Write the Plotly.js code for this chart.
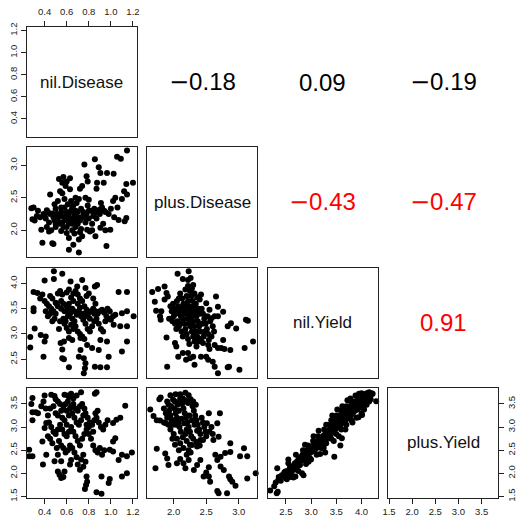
<!DOCTYPE html>
<html><head><meta charset="utf-8">
<script src="https://cdn.plot.ly/plotly-3.0.1.min.js"></script>
<style>html,body{margin:0;padding:0;background:#fff}#chart{width:519px;height:519px}</style>
</head><body><div id="chart"></div>
<script>
const varNames = ["nil.Disease","plus.Disease","nil.Yield","plus.Yield"];
const varRanges = [[0.236,1.232],[1.59,3.28],[2.137,4.316],[1.478,3.855]];
const varTicks = [[0.4,0.6,0.8,1.0,1.2],[2.0,2.5,3.0],[2.5,3.0,3.5,4.0],[1.5,2.0,2.5,3.0,3.5]];

const corrRows = [1,1,1,2,2,3];
const corrCols = [2,3,4,3,4,4];
const corrValues = [-0.18,0.09,-0.19,-0.43,-0.47,0.91];
const corrColors = ["#000000","#000000","#000000","#ff0000","#ff0000","#ff0000"];

// row 2, col 1 : nil.Disease (x) vs plus.Disease (y)
const pts21 = [[0.28,2.34],[0.30,2.35],[0.29,2.17],[0.31,2.15],[0.33,2.22],[0.34,2.30],
[0.37,2.01],[0.38,1.81],[0.40,2.22],[0.41,2.18],[0.42,2.05],[0.43,2.28],[0.44,2.12],[0.45,2.55],[0.44,1.98],[0.39,2.25],[0.42,2.31],[0.36,2.20],
[0.47,1.80],[0.48,1.79],[0.48,2.20],[0.49,2.15],[0.50,2.33],[0.51,2.25],[0.50,2.05],[0.52,2.45],[0.53,2.79],[0.54,2.60],[0.53,2.10],[0.47,2.26],[0.46,2.00],[0.52,2.18],[0.55,2.28],[0.55,1.99],[0.49,2.40],
[0.56,2.73],[0.56,2.57],[0.57,2.82],[0.59,2.68],[0.60,2.75],[0.61,2.15],[0.62,1.70],[0.62,1.88],[0.60,1.96],[0.63,2.63],[0.63,2.80],[0.58,2.35],[0.59,2.22],[0.61,2.40],[0.64,2.30],[0.57,2.05],[0.62,2.10],[0.65,2.00],[0.64,2.45],[0.58,2.48],[0.60,2.28],[0.63,2.18],[0.56,2.12],[0.65,2.35],[0.66,1.78],
[0.67,2.25],[0.68,2.50],[0.69,2.42],[0.70,2.10],[0.71,1.66],[0.71,1.86],[0.72,2.64],[0.73,2.33],[0.74,2.68],[0.74,1.91],[0.70,2.20],[0.68,2.05],[0.72,1.97],[0.66,2.38],[0.69,2.15],[0.73,2.02],[0.75,2.28],[0.67,1.95],[0.71,2.48],[0.74,2.20],
[0.76,3.01],[0.77,2.50],[0.78,2.83],[0.79,2.75],[0.80,2.47],[0.785,2.01],[0.78,2.25],[0.80,2.18],[0.82,2.30],[0.83,2.10],[0.84,2.22],[0.77,2.12],[0.81,1.98],[0.85,2.33],[0.79,2.38],[0.83,2.00],
[0.855,3.09],[0.89,2.97],[0.905,2.88],[0.875,2.73],[0.87,2.64],[0.86,1.91],[0.905,2.04],[0.935,2.73],[0.88,2.30],[0.90,2.25],[0.92,2.35],[0.93,2.10],[0.87,2.18],[0.95,2.00],[0.94,2.30],[0.91,2.42],[0.96,1.76],
[0.965,2.88],[1.025,2.87],[0.995,2.01],[1.00,2.33],[1.02,2.45],[1.04,2.50],[1.056,3.13],[1.09,3.10],[1.07,2.16],[1.10,2.48],[1.125,2.14],[1.14,2.19],[1.146,2.55],[1.14,2.71],[1.146,3.226],[1.20,2.73],[0.98,2.25],[1.03,2.20],[1.12,2.60],[1.06,2.35],
[0.45,2.25],[0.50,2.18],[0.55,2.22],[0.58,2.15],[0.60,2.20],[0.62,2.25],[0.65,2.18],[0.68,2.30],[0.70,2.28],[0.72,2.15],[0.75,2.22],[0.78,2.18],[0.80,2.30],[0.85,2.25],[0.90,2.32],[0.95,2.28],[0.60,2.05],[0.65,2.10],[0.55,2.35],[0.50,2.10]];

// row 3, col 1 : nil.Disease (x) vs nil.Yield (y)
const pts31 = [[0.484,4.24],[0.56,4.19],[0.484,4.09],[0.40,4.06],[0.635,4.04],[0.74,4.07],[0.875,3.97],[0.855,3.94],[0.77,3.91],[0.695,3.94],
[0.30,3.83],[0.335,3.81],[0.30,3.51],[0.30,3.45],[0.31,3.11],[0.27,2.94],[0.27,2.73],[0.365,2.98],[0.40,2.85],[0.41,2.95],[0.39,2.55],
[1.146,3.83],[1.07,3.83],[1.206,3.35],[1.146,3.45],[1.10,3.41],[1.04,3.38],[1.146,3.15],[1.085,3.15],[1.025,3.18],[1.146,2.85],[1.10,2.65],[0.965,2.85],[0.98,2.55],[0.965,2.34],[0.905,2.34],[0.855,2.35],[0.755,2.22],[0.765,2.32],[0.77,2.42],[0.755,2.52],[0.62,2.34],[0.71,2.55],[0.56,2.52],[0.575,2.50],
[0.545,2.82],[0.56,2.69],[0.575,2.85],[0.62,2.92],[0.65,2.88],[0.725,2.92],[0.785,2.78],[0.725,2.68],[0.83,2.72],[0.89,2.68],[0.905,2.88],
[0.45,3.75],[0.47,3.70],[0.50,3.62],[0.52,3.55],[0.55,3.50],[0.58,3.45],[0.60,3.55],[0.62,3.60],[0.64,3.72],[0.66,3.80],[0.68,3.85],[0.70,3.78],[0.72,3.70],[0.74,3.65],[0.76,3.55],[0.78,3.48],[0.80,3.42],[0.82,3.45],[0.84,3.50],[0.86,3.45],[0.88,3.40],[0.90,3.45],[0.92,3.48],[0.94,3.42],[0.96,3.35],[0.98,3.30],
[0.57,3.30],[0.59,3.25],[0.61,3.35],[0.63,3.40],[0.65,3.30],[0.67,3.25],[0.69,3.38],[0.71,3.45],[0.73,3.35],[0.75,3.28],[0.77,3.20],[0.79,3.10],[0.81,3.05],[0.83,3.15],[0.85,3.25],[0.87,3.30],[0.89,3.20],[0.91,3.10],[0.93,3.05],
[0.50,3.40],[0.48,3.45],[0.46,3.50],[0.44,3.55],[0.42,3.60],[0.40,3.65],[0.38,3.78],[0.36,3.70],[0.52,3.80],[0.54,3.85],[0.56,3.78],[0.60,3.82],[0.62,3.88],[0.66,3.65],[0.70,3.60],[0.72,3.52],
[0.68,3.15],[0.70,3.05],[0.72,3.00],[0.74,2.95],[0.76,2.90],[0.66,3.10],[0.64,3.18],[0.62,3.05],[0.60,3.12],[0.58,3.20],[0.54,3.25],[0.53,3.10],[0.51,3.60],[0.49,3.30],[0.47,3.25],[0.45,3.40],[0.43,3.35],[0.41,3.45],
[0.55,3.65],[0.57,3.60],[0.65,3.50],[0.67,3.45],[0.79,3.35],[0.81,3.30],[0.75,3.40],[0.77,3.38],[0.63,3.50],[0.61,3.45],[0.85,3.40],[0.95,3.25],[1.00,3.28],[1.02,3.35],[0.99,3.45],[0.97,3.50],[0.86,3.60],[0.84,3.70],[0.80,3.80],[0.78,3.75]];

// row 4, col 1 : nil.Disease (x) vs plus.Yield (y)
const pts41 = [[0.29,3.63],[0.40,3.68],[0.46,3.70],[0.49,3.67],[0.64,3.72],[0.73,3.75],[0.855,3.72],[0.87,3.75],[0.69,3.68],[0.58,3.70],[0.61,3.68],
[0.28,3.50],[0.29,3.32],[0.29,3.15],[0.32,3.32],[0.34,3.30],[0.26,2.51],[0.26,2.37],[0.29,2.37],[0.38,2.69],[0.385,2.19],[0.40,2.98],[0.415,3.09],[0.43,2.80],
[1.13,3.46],[1.085,3.20],[1.05,3.16],[1.02,3.09],[1.04,2.76],[1.02,2.69],[0.99,2.51],[1.02,2.47],[1.19,2.45],[1.145,2.37],[1.10,2.40],[1.07,2.29],[1.145,2.00],[1.10,1.93],[0.99,1.88],[0.98,1.79],[0.915,1.93],[0.915,1.56],[0.87,1.59],[0.765,1.66],[0.775,1.75],[0.78,1.93],[0.785,1.82],
[0.52,2.04],[0.535,1.97],[0.55,1.90],[0.57,1.92],[0.58,2.04],[0.72,2.08],[0.75,2.14],[0.70,2.19],[0.63,2.19],[0.55,2.26],[0.64,2.29],[0.52,2.40],[0.49,2.26],[0.415,2.40],
[0.45,3.40],[0.48,3.45],[0.50,3.30],[0.52,3.25],[0.55,3.35],[0.57,3.45],[0.59,3.50],[0.61,3.55],[0.63,3.40],[0.65,3.30],[0.67,3.20],[0.69,3.10],[0.71,3.05],[0.73,3.15],[0.75,3.25],[0.77,3.30],[0.79,3.20],[0.81,3.10],[0.83,3.05],[0.85,3.15],[0.87,3.20],[0.89,3.10],[0.91,3.00],[0.93,2.95],[0.95,3.05],[0.97,3.15],
[0.44,3.10],[0.46,3.00],[0.48,2.90],[0.50,2.85],[0.52,2.95],[0.54,3.05],[0.56,2.95],[0.58,2.85],[0.60,2.80],[0.62,2.90],[0.64,3.00],[0.66,2.90],[0.68,2.80],[0.70,2.70],[0.72,2.60],[0.74,2.75],[0.76,2.85],[0.78,2.95],[0.80,2.85],[0.82,2.75],[0.84,2.60],[0.86,2.50],[0.88,2.45],[0.90,2.55],[0.92,2.40],[0.94,2.50],
[0.55,2.60],[0.57,2.55],[0.59,2.45],[0.61,2.50],[0.63,2.60],[0.65,2.55],[0.67,2.45],[0.69,2.35],[0.53,2.70],[0.51,2.55],[0.47,2.65],[0.45,2.75],[0.43,3.25],[0.41,3.40],[0.39,3.55],[0.37,3.45],
[0.60,3.35],[0.62,3.25],[0.64,3.45],[0.66,3.50],[0.68,3.40],[0.70,3.35],[0.72,3.45],[0.74,3.50],[0.76,3.40],[0.78,3.05],[0.80,3.00],[0.56,3.20],[0.58,3.15],[0.60,3.05],[0.54,3.50],[0.52,3.55],[0.50,3.60],[0.66,3.62],[0.62,3.65],[0.86,3.30],[0.88,3.35],[0.84,2.90],[0.75,2.40],[0.77,2.25],[0.73,2.30]];

// row 3, col 2 : plus.Disease (x) vs nil.Yield (y)
const pts32 = [[1.67,3.83],[1.71,3.64],[1.73,3.46],[1.81,3.45],[1.79,3.35],[1.80,3.28],[1.76,3.89],[1.86,3.94],[1.89,3.81],[1.91,3.74],[1.86,3.68],
[2.06,4.19],[2.23,4.24],[2.14,4.09],[2.22,4.07],[2.30,3.97],[2.26,4.11],
[1.89,2.93],[1.90,2.35],[2.02,2.82],[2.04,2.75],[2.07,2.55],[2.14,2.62],[2.19,2.49],[2.22,2.62],[2.25,2.52],[2.30,2.55],[2.32,2.39],[2.42,2.55],[2.50,2.55],[2.53,2.49],[2.60,2.45],[2.63,2.35],[2.68,2.22],[2.83,2.34],[2.85,2.35],[3.01,2.29],[3.09,2.72],[3.22,2.85],[3.11,3.28],[3.14,3.26],[2.96,3.11],[2.88,3.21],[2.83,3.15],[2.76,2.88],[2.68,2.72],[2.73,2.72],[2.78,2.70],[2.87,2.68],[2.55,2.70],[2.53,2.78],[2.63,2.78],[2.45,2.82],
[2.68,3.54],[2.76,3.44],[2.68,3.35],[2.63,3.35],[2.58,3.31],[2.55,3.48],[2.50,3.61],[2.65,3.74],[2.42,3.78],[2.40,3.68],
[1.95,3.55],[1.97,3.45],[1.99,3.60],[2.01,3.50],[2.03,3.40],[2.05,3.65],[2.07,3.55],[2.09,3.45],[2.11,3.35],[2.13,3.70],[2.15,3.60],[2.17,3.50],[2.19,3.40],[2.21,3.30],[2.23,3.20],[2.25,3.85],[2.27,3.75],[2.29,3.65],[2.31,3.55],[2.33,3.45],[2.35,3.35],[2.37,3.25],[2.39,3.15],[2.41,3.05],[2.43,3.50],[2.45,3.40],[2.47,3.30],[2.49,3.20],[2.51,3.10],[2.53,3.00],
[2.10,3.80],[2.18,3.88],[2.20,3.75],[2.22,3.65],[2.24,3.55],[2.26,3.45],[2.28,3.35],[2.30,3.25],[2.32,3.15],[2.34,3.05],[2.36,2.95],[2.02,3.20],[2.04,3.10],[2.06,3.25],[2.08,3.15],[2.12,3.05],[2.14,2.95],[2.16,3.20],[2.18,3.10],[2.20,3.00],[2.22,2.90],[2.24,2.80],[2.26,3.15],[2.28,3.05],[2.30,2.95],[2.32,2.85],
[1.93,3.30],[1.98,3.25],[2.00,3.35],[2.06,3.42],[2.12,3.52],[2.16,3.42],[2.20,3.50],[2.24,3.38],[2.28,3.48],[2.34,3.60],[2.38,3.50],[2.40,3.40],[2.44,3.20],[2.48,3.05],[2.52,3.35],[2.56,3.25],[2.60,3.15],[2.62,3.05],[2.58,2.95],[2.54,2.88],[2.46,2.95],[2.42,2.90],[2.38,2.85],[2.35,2.75],[2.22,3.95],[2.28,3.90],[2.32,3.80],[2.36,3.72],[2.14,3.30],[2.10,3.20],[2.26,3.28],[2.30,3.38],[2.18,3.58],[2.08,3.70]];

// row 4, col 2 : plus.Disease (x) vs plus.Yield (y)
const pts42 = [[1.64,3.38],[1.69,3.24],[1.78,3.60],[1.80,3.64],[1.74,3.15],[1.79,3.14],[1.85,3.10],[1.88,3.08],[1.72,2.11],[1.74,2.53],[1.87,2.43],[1.90,2.32],[1.92,2.18],[2.05,2.22],[2.10,2.31],[2.15,2.22],[2.18,2.11],[2.23,2.29],[2.31,2.07],[2.36,2.18],[2.41,2.29],[2.46,1.93],[2.50,2.02],[2.54,1.93],[2.56,1.82],[2.54,2.13],[2.67,2.29],[2.64,2.40],[2.72,2.36],[2.79,2.44],[2.87,2.46],[2.72,2.15],[2.77,2.07],[2.85,1.93],[2.87,1.87],[2.90,1.82],[2.82,1.57],[2.69,1.57],[2.67,1.62],[2.95,1.73],[3.13,1.89],[3.26,2.00],[3.08,2.54],[3.13,2.37],[3.02,2.37],[2.87,2.65],[2.69,2.79],[2.67,3.08],[2.71,3.30],[2.54,3.30],[2.51,3.08],[2.61,2.72],[2.41,2.72],[2.36,2.58],[2.28,2.61],[2.23,2.50],[2.20,2.40],
[1.95,3.69],[2.03,3.71],[2.10,3.71],[2.18,3.74],[2.23,3.69],[2.10,3.62],[1.99,3.59],[1.92,3.48],[1.90,3.55],
[1.85,3.40],[1.88,3.30],[1.90,3.20],[1.93,3.35],[1.95,3.25],[1.97,3.15],[1.99,3.05],[2.01,3.40],[2.03,3.30],[2.05,3.20],[2.07,3.10],[2.09,3.00],[2.11,2.90],[2.13,3.50],[2.15,3.40],[2.17,3.30],[2.19,3.20],[2.21,3.10],[2.23,3.00],[2.25,2.90],[2.27,2.80],[2.29,3.45],[2.31,3.35],[2.33,3.25],[2.35,3.15],[2.37,3.05],[2.39,2.95],[2.41,2.85],[2.43,3.20],[2.45,3.10],[2.47,3.00],[2.49,2.90],
[2.10,3.55],[2.14,3.62],[2.18,3.58],[2.22,3.52],[2.26,3.60],[2.30,3.55],[2.34,3.48],[2.06,3.48],[2.02,3.55],[1.96,3.45],[1.92,3.05],[1.95,2.95],[2.00,2.85],[2.05,2.75],[2.10,2.65],[2.15,2.55],[2.20,2.70],[2.25,2.62],[2.30,2.75],[2.35,2.68],[2.40,2.60],[2.45,2.72],[2.50,2.80],[2.55,2.90],[2.58,3.00],[2.60,2.85],
[2.12,3.18],[2.16,3.08],[2.20,2.95],[2.24,3.25],[2.28,3.15],[2.32,3.05],[2.36,2.92],[2.08,3.35],[2.04,3.05],[2.00,3.15],[1.98,2.75],[2.02,2.62],[2.08,2.50],[2.26,2.45],[2.18,2.85],[2.14,2.78]];

// row 4, col 3 : nil.Yield (x) vs plus.Yield (y)
const pts43 = [[2.19,1.63],[2.32,1.57],[2.34,1.60],[2.27,1.72],[2.35,1.85],[2.33,2.11],[2.42,1.96],[2.49,2.04],[2.52,1.87],[2.55,2.22],[2.65,2.16],[2.65,1.91],[2.69,1.93],[2.82,2.00],[2.85,1.96],[2.78,2.18],[2.72,2.25],[2.98,2.32],[3.11,2.40],[3.18,2.42],[3.28,2.45],[3.46,2.36],[3.61,2.76],[3.94,3.21],[4.01,3.26],[4.04,3.45],[4.20,3.73],[4.29,3.56],[4.10,3.73],[4.00,3.73],
[2.30,1.80],[2.36,1.92],[2.40,1.84],[2.44,1.95],[2.47,2.02],[2.50,1.90],[2.53,2.05],[2.56,1.98],[2.58,2.12],[2.61,2.02],[2.63,2.15],[2.66,2.08],[2.68,2.22],[2.71,2.12],[2.73,2.25],[2.75,2.30],[2.77,2.18],[2.79,2.35],[2.81,2.28],[2.83,2.40],[2.85,2.32],[2.87,2.45],[2.89,2.30],[2.91,2.42],[2.93,2.50],[2.95,2.38],[2.97,2.55],[2.99,2.45],
[3.01,2.58],[3.03,2.50],[3.05,2.62],[3.07,2.48],[3.09,2.65],[3.11,2.55],[3.13,2.70],[3.15,2.60],[3.17,2.72],[3.19,2.58],[3.21,2.78],[3.23,2.68],[3.25,2.82],[3.27,2.70],[3.29,2.88],[3.31,2.75],[3.33,2.90],[3.35,2.80],[3.37,2.95],[3.39,2.85],
[3.41,3.00],[3.43,2.88],[3.45,3.05],[3.47,2.95],[3.49,3.10],[3.51,2.98],[3.53,3.12],[3.55,3.02],[3.57,3.18],[3.59,3.05],[3.61,3.22],[3.63,3.10],[3.65,3.25],[3.67,3.12],[3.69,3.30],[3.71,3.18],[3.73,3.32],[3.75,3.22],[3.77,3.38],[3.79,3.25],
[3.81,3.42],[3.83,3.30],[3.85,3.45],[3.87,3.35],[3.89,3.50],[3.91,3.38],[3.93,3.55],[3.95,3.42],[3.97,3.60],[3.99,3.48],[4.02,3.65],[4.05,3.55],[4.08,3.70],[4.12,3.62],[4.15,3.75],[4.18,3.68],[4.22,3.72],
[3.14,2.80],[3.26,2.95],[3.36,3.05],[3.46,3.15],[3.56,3.25],[3.66,3.35],[3.76,3.45],[3.86,3.55],[3.96,3.65],[3.04,2.70],[2.94,2.60],[2.84,2.50],[3.20,2.55],[3.30,2.65],[3.40,2.75],[3.50,2.85],[3.60,2.95],[3.70,3.05],[3.80,3.15],
[3.35,2.88],[3.45,2.92],[3.55,3.08],[3.65,3.18],[3.75,3.28],[3.85,3.38],[3.10,2.62],[3.00,2.52],[2.90,2.40],[3.22,2.72],[3.32,2.82],[3.42,2.95],[3.52,3.05],[3.62,3.15],
[2.90,2.20],[3.00,2.30],[3.05,2.80],[3.15,2.92],[3.25,2.55],[3.30,3.05],[3.40,3.15],[3.45,2.70],[3.55,2.80],[3.50,3.25],[3.60,3.35],[3.68,2.95],[3.70,3.45],[3.80,3.55],[3.82,3.10],[3.90,3.20],[3.92,3.65],[4.00,3.30],[4.05,3.38],[4.10,3.48],[4.15,3.55],[3.58,2.60],[3.25,2.62],[2.95,2.25],[2.75,2.05],[2.60,1.92],[2.88,2.62],[2.70,2.40],[2.55,2.30],[3.78,3.62],[3.72,3.58],[3.62,3.45],[3.52,3.38],[3.42,3.25],[3.88,3.68],[4.08,3.58],[4.18,3.60],[3.95,3.72]];

const scatterPanels = {"2,1":pts21,"3,1":pts31,"4,1":pts41,"3,2":pts32,"4,2":pts42,"4,3":pts43};

// ---- layout geometry (pixels in a 519 x 519 page) ----
const W = 519;
const colPx = [[26.5,136.5],[147,257],[267.5,377.5],[388,498]];
const rowPx = [[27,137],[147,257],[267.5,377.5],[387.5,497.5]];
const xDom = c => [colPx[c-1][0]/W, colPx[c-1][1]/W];
const yDom = r => [1-rowPx[r-1][1]/W, 1-rowPx[r-1][0]/W];

const FONT = "Liberation Sans, Arial, Helvetica, sans-serif";
const LINE = "#222222";
const tickFont = {family: FONT, size: 9.5, color: "#222222"};

const traces = [];
const layout = {
  width: W, height: W, margin: {l:0,r:0,t:0,b:0},
  paper_bgcolor: "#ffffff", plot_bgcolor: "#ffffff",
  showlegend: false, annotations: []
};

function fmt(v){
  const s = Math.abs(v).toFixed(2);
  return (v<0 ? '<span style="font-family:DejaVu Sans">\u2212</span>' : "") + s;
}

let n = 0;
for (let r = 1; r <= 4; r++) {
  for (let c = 1; c <= r; c++) {
    n++;
    const xa = "xaxis" + (n===1?"":n), ya = "yaxis" + (n===1?"":n);
    const xid = "x" + (n===1?"":n), yid = "y" + (n===1?"":n);
    const xTickSide = (r===4) ? "bottom" : (r===1 && c===1 ? "top" : null);
    const yTickSide = (c===1) ? "left" : (r===4 && c===4 ? "right" : null);
    layout[xa] = {
      domain: xDom(c), range: varRanges[c-1], anchor: yid,
      showline: true, mirror: true, linecolor: LINE, linewidth: 1,
      showgrid: false, zeroline: false, fixedrange: true,
      side: xTickSide || "bottom",
      tickvals: varTicks[c-1], ticktext: varTicks[c-1].map(v=>v.toFixed(1)),
      ticks: xTickSide ? "outside" : "", ticklen: 5, tickcolor: LINE, tickwidth: 1,
      showticklabels: !!xTickSide, tickfont: tickFont,
      ticklabelstandoff: (r===1 && c===1) ? 2 : 0
    };
    layout[ya] = {
      domain: yDom(r), range: varRanges[r-1], anchor: xid,
      showline: true, mirror: true, linecolor: LINE, linewidth: 1,
      showgrid: false, zeroline: false, fixedrange: true,
      side: yTickSide || "left",
      tickvals: varTicks[r-1], ticktext: varTicks[r-1].map(v=>v.toFixed(1)),
      ticks: yTickSide ? "outside" : "", ticklen: 5, tickcolor: LINE, tickwidth: 1,
      showticklabels: !!yTickSide, tickfont: tickFont, tickangle: -90, ticklabelstandoff: 0
    };
    if (r === c) {
      layout.annotations.push({
        xref: xid + " domain", yref: yid + " domain", x: 0.5, y: 0.5,
        text: varNames[r-1], showarrow: false,
        font: {family: FONT, size: 17, color: "#111111"}, xanchor: "center", yanchor: "middle"
      });
      traces.push({type:"scatter", x:[], y:[], xaxis:xid, yaxis:yid, hoverinfo:"skip"});
    } else {
      const pts = scatterPanels[r + "," + c];
      traces.push({
        type: "scatter", mode: "markers", xaxis: xid, yaxis: yid,
        x: pts.map(p=>p[0]), y: pts.map(p=>p[1]),
        marker: {color: "#000000", size: 6, line: {width: 0}},
        hoverinfo: "skip", cliponaxis: false
      });
    }
  }
}

for (let i = 0; i < corrValues.length; i++) {
  const r = corrRows[i], c = corrCols[i];
  const xd = xDom(c), yd = yDom(r);
  layout.annotations.push({
    xref: "paper", yref: "paper", x: (xd[0]+xd[1])/2, y: (yd[0]+yd[1])/2,
    text: fmt(corrValues[i]), showarrow: false,
    font: {family: FONT, size: 24, color: corrColors[i]},
    xanchor: "center", yanchor: "middle"
  });
}

Plotly.newPlot("chart", traces, layout, {staticPlot: true, displayModeBar: false});
</script></body></html>
